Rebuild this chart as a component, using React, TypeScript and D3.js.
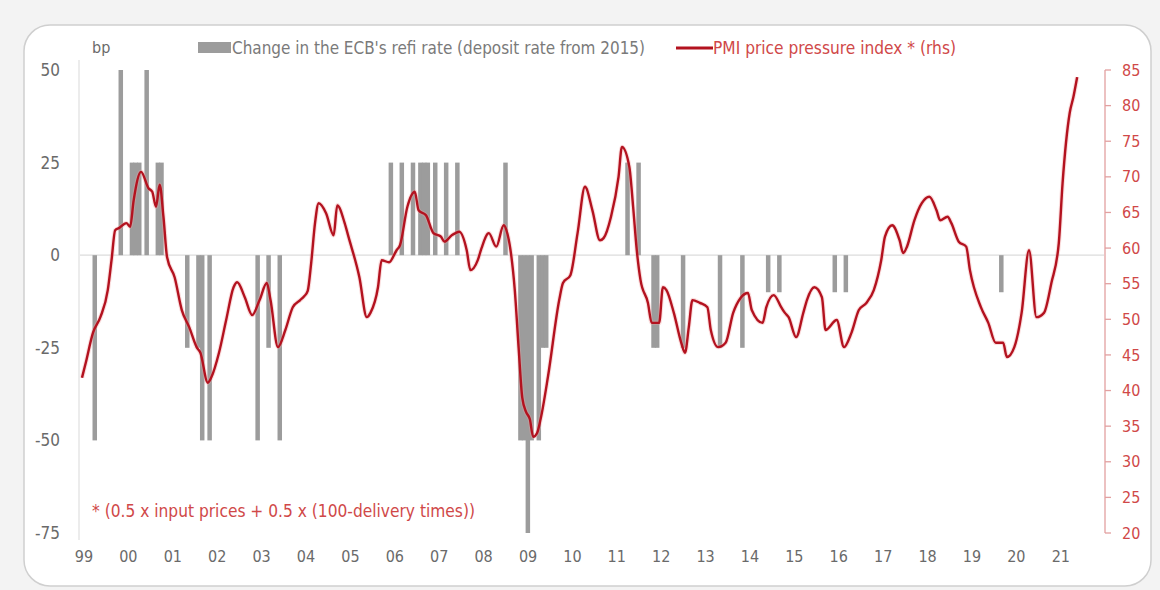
import React from 'react';
import * as d3 from 'd3';

// PMI price pressure index (rhs), monthly points
const pmiMonths = [
  '1999-01','1999-02','1999-04','1999-06','1999-08','1999-09','1999-10','1999-11',
  '2000-01','2000-02','2000-03','2000-05','2000-07','2000-08','2000-09','2000-10','2000-11','2000-12',
  '2001-02','2001-04','2001-06','2001-08','2001-09','2001-11','2001-12',
  '2002-02','2002-04','2002-06','2002-07','2002-09','2002-11',
  '2003-01','2003-03','2003-04','2003-06','2003-08','2003-10','2003-12',
  '2004-01','2004-02','2004-03','2004-04','2004-05','2004-07','2004-09','2004-10','2004-12',
  '2005-01','2005-04','2005-06','2005-07','2005-09','2005-10','2005-12',
  '2006-02','2006-03','2006-05','2006-07','2006-08','2006-10','2006-12',
  '2007-02','2007-03','2007-05','2007-06','2007-07','2007-09','2007-10','2007-12',
  '2008-01','2008-03','2008-05','2008-07','2008-08','2008-09','2008-10','2008-11','2008-12',
  '2009-01','2009-02','2009-03','2009-04','2009-05','2009-07','2009-10','2009-11',
  '2010-01','2010-03','2010-05','2010-07','2010-09','2010-10','2010-12',
  '2011-02','2011-03','2011-05','2011-06','2011-07','2011-08','2011-10','2011-11',
  '2012-01','2012-02','2012-03','2012-05','2012-07','2012-08','2012-09','2012-10','2012-12',
  '2013-02','2013-03','2013-05','2013-07','2013-09','2013-11',
  '2014-01','2014-02','2014-05','2014-06','2014-08','2014-10','2014-11','2014-12',
  '2015-02','2015-04','2015-05','2015-07','2015-09','2015-10',
  '2016-01','2016-03','2016-05','2016-07','2016-09','2016-11',
  '2017-01','2017-02','2017-04','2017-06','2017-07','2017-08','2017-10','2017-12',
  '2018-02','2018-04','2018-05','2018-07','2018-08','2018-10','2018-12',
  '2019-01','2019-04','2019-06','2019-08','2019-10','2019-11',
  '2020-01','2020-03','2020-05','2020-07','2020-09','2020-11',
  '2021-01','2021-02','2021-04','2021-05','2021-06'
];
const pmiValues = [
  41.8,43.9,48.1,50.3,54.1,58.3,62.5,62.8,
  63.5,63.0,66.7,70.7,68.4,67.9,65.8,68.9,64.4,58.7,
  55.9,51.3,48.9,46.1,45.3,41.1,41.9,
  45.3,49.9,54.5,55.2,53.1,50.6,
  52.7,55.1,52.7,46.1,48.5,51.7,52.7,
  53.2,54.0,58.0,63.5,66.3,64.9,61.8,66.0,63.5,
  61.6,55.9,50.3,50.9,54.5,58.3,58.0,
  59.7,60.4,65.8,67.9,65.3,64.6,62.1,
  61.6,60.9,61.8,62.1,62.3,59.7,56.9,58.3,
  60.0,62.1,60.2,63.2,62.0,59.0,54.0,46.0,39.0,
  37.0,36.0,33.5,34.0,36.0,42.0,52.7,55.1,
  56.2,62.1,68.6,65.3,61.1,61.4,64.4,
  70.0,74.2,71.4,65.8,59.7,55.5,52.3,49.5,
  49.5,54.5,54.1,50.9,46.7,45.3,48.9,52.7,52.3,
  51.7,48.5,46.1,46.7,50.9,53.0,
  53.7,51.3,49.5,51.7,53.4,51.7,50.9,50.3,
  47.5,50.9,52.7,54.5,53.1,48.5,
  49.9,46.1,48.1,51.3,52.3,54.1,
  58.3,61.6,63.2,61.1,59.3,60.2,63.9,66.3,
  67.2,65.3,63.9,64.4,63.5,60.9,60.2,
  56.9,51.7,49.5,46.7,46.7,44.7,
  46.1,50.9,59.7,50.3,50.9,55.1,
  60.7,69.1,79.0,81.2,84.0
];

// Change in the ECB's refi rate (deposit rate from 2015), bp
const rateMonths = [
  '1999-04','1999-11','2000-02','2000-03','2000-04','2000-06','2000-09','2000-10',
  '2001-05','2001-08','2001-09','2001-11','2002-12','2003-03','2003-06',
  '2005-12','2006-03','2006-06','2006-08','2006-09','2006-10','2006-12','2007-03','2007-06',
  '2008-07','2008-11','2008-12','2009-01','2009-02','2009-04','2009-05','2009-06',
  '2011-04','2011-07','2011-11','2011-12','2012-07','2013-05','2013-11',
  '2014-06','2014-09','2015-12','2016-03','2019-09'
];
const rateChanges = [
  -50,50,25,25,25,50,25,25,
  -25,-25,-50,-50,-50,-25,-50,
  25,25,25,25,25,25,25,25,25,
  25,-50,-50,-75,-50,-50,-25,-25,
  25,25,-25,-25,-25,-25,-25,
  -10,-10,-10,-10,-10
];

const leftTicks = [50, 25, 0, -25, -50, -75];
const rightTicks = [85, 80, 75, 70, 65, 60, 55, 50, 45, 40, 35, 30, 25, 20];
const yearLabels = ['99','00','01','02','03','04','05','06','07','08','09','10','11','12','13','14','15','16','17','18','19','20','21'];

const legendBars = "Change in the ECB's refi rate (deposit rate from 2015)";
const legendLine = 'PMI price pressure index * (rhs)';
const footnote = '* (0.5 x input prices + 0.5 x (100-delivery times))';

const FONT = "'Liberation Sans Narrow','DejaVu Sans Condensed','Roboto Condensed','Arial Narrow',sans-serif";

export default function App() {
  const W = 1160, H = 590;
  const parse = d3.timeParse('%Y-%m');
  const x = d3.scaleTime()
    .domain([new Date(1999, 0, 1), new Date(2021, 0, 1)])
    .range([82, 1058.8]);
  const yL = d3.scaleLinear().domain([-75, 50]).range([533, 70]);
  const yR = d3.scaleLinear().domain([20, 85]).range([533, 70]);

  const pts: [number, number][] = pmiMonths.map((m, i) => [x(parse(m) as Date), yR(pmiValues[i])]);
  const linePath = d3.line().curve(d3.curveMonotoneX)(pts) || '';

  const barW = 4.5;
  const red = '#b3121f';
  const redText = '#d04848';

  return (
    <svg width={W} height={H} style={{ position: 'absolute', left: 0, top: 0, display: 'block' }} fontFamily={FONT}>
      <rect x={0} y={0} width={W} height={H} fill="#f3f3f3" />
      <rect x={24} y={25} width={1127} height={561} rx={26} ry={26} fill="#ffffff" stroke="#cfcfcf" strokeWidth={1.5} />

      {/* left axis faint line */}
      <line x1={79} x2={79} y1={60} y2={540} stroke="#e6e6e6" strokeWidth={1.5} />
      {/* zero line */}
      <line x1={80} x2={1104} y1={yL(0)} y2={yL(0)} stroke="#dcdcdc" strokeWidth={1.2} />

      {/* bars */}
      {rateMonths.map((m, i) => {
        const d = parse(m) as Date;
        const cx = x(d3.timeDay.offset(d, 15));
        const v = rateChanges[i];
        const y0 = yL(0), y1 = yL(v);
        return <rect key={m} x={cx - barW / 2} y={Math.min(y0, y1)} width={barW} height={Math.abs(y1 - y0)} fill="#9c9c9c" />;
      })}

      {/* PMI line */}
      <path d={linePath} fill="none" stroke="#f2a0a0" strokeWidth={4.5} strokeOpacity={0.35} strokeLinejoin="round" />
      <path d={linePath} fill="none" stroke={red} strokeWidth={2.4} strokeLinejoin="round" />

      {/* left ticks */}
      {leftTicks.map(t => (
        <text key={t} x={60} y={yL(t)} dy="0.35em" textAnchor="end" fontSize={17} fill="#6a6a6a">{t}</text>
      ))}
      <text x={92} y={53} fontSize={16} fill="#6a6a6a">bp</text>

      {/* right axis */}
      <line x1={1105} x2={1105} y1={yR(85)} y2={yR(20)} stroke="#e2a0a0" strokeWidth={1.3} />
      {rightTicks.map(t => (
        <g key={t}>
          <line x1={1105} x2={1111} y1={yR(t)} y2={yR(t)} stroke="#e2a0a0" strokeWidth={1.3} />
          <text x={1122} y={yR(t)} dy="0.35em" fontSize={16} fill={redText}>{t}</text>
        </g>
      ))}

      {/* x labels */}
      {yearLabels.map((l, i) => (
        <text key={l} x={x(new Date(1999 + i, 0, 1)) + 2} y={556} dy="0.35em" textAnchor="middle" fontSize={16} fill="#6a6a6a">{l}</text>
      ))}

      {/* legend */}
      <rect x={198} y={42} width={33} height={11} fill="#9c9c9c" />
      <text x={232} y={54} fontSize={17} fill="#7a7a7a" textLength={413} lengthAdjust="spacingAndGlyphs">{legendBars}</text>
      <line x1={676} x2={713} y1={48} y2={48} stroke={red} strokeWidth={3} />
      <text x={713} y={54} fontSize={17} fill={redText} textLength={243} lengthAdjust="spacingAndGlyphs">{legendLine}</text>

      {/* footnote */}
      <text x={92} y={517} fontSize={17} fill={redText} textLength={383} lengthAdjust="spacingAndGlyphs">{footnote}</text>
    </svg>
  );
}
